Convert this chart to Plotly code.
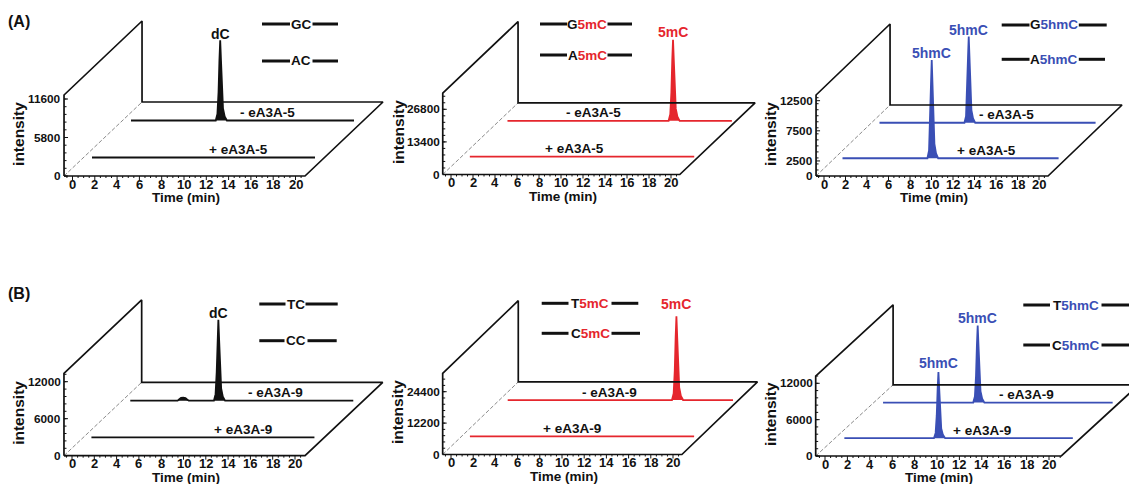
import plotly.graph_objects as go

FIG_W, FIG_H = 1129, 484

# ---------------- data ----------------
TIME_TICKS = [0, 2, 4, 6, 8, 10, 12, 14, 16, 18, 20]

A1_Y_TICKS = [0, 5800, 11600]
A2_Y_TICKS = [0, 13400, 26800]
A3_Y_TICKS = [0, 2500, 7500, 12500]
B1_Y_TICKS = [0, 6000, 12000]
B2_Y_TICKS = [0, 12200, 24400]
B3_Y_TICKS = [0, 6000, 12000]

# chromatograms: retention time (min) / intensity
A1_PLUS_T = [0, 20.0]
A1_PLUS_I = [0, 0]
A1_MINUS_T = [0, 7.6, 7.75, 7.85, 7.93, 8.0, 8.07, 8.15, 8.25, 8.4, 8.6, 20.0]
A1_MINUS_I = [0, 0, 970, 4240, 9080, 12100, 9080, 4600, 1800, 600, 0, 0]

A2_PLUS_T = [0, 20.4]
A2_PLUS_I = [0, 0]
A2_MINUS_T = [0, 14.65, 14.8, 14.9, 14.98, 15.05, 15.12, 15.2, 15.3, 15.45, 15.65, 20.4]
A2_MINUS_I = [0, 0, 2700, 11700, 25000, 33300, 25000, 12700, 5000, 1700, 0, 0]

A3_PLUS_T = [0, 7.9, 8.05, 8.15, 8.23, 8.3, 8.37, 8.45, 8.55, 8.7, 8.9, 20.1]
A3_PLUS_I = [0, 0, 1300, 5700, 12200, 16300, 12200, 6200, 2400, 800, 0, 0]
A3_MINUS_T = [0, 7.9, 8.05, 8.15, 8.23, 8.3, 8.37, 8.45, 8.55, 8.7, 8.9, 20.1]
A3_MINUS_I = [0, 0, 1100, 5000, 10700, 14300, 10700, 5400, 2100, 700, 0, 0]

B1_PLUS_T = [0, 20.0]
B1_PLUS_I = [0, 0]
B1_MINUS_T = [0, 4.25, 4.4, 4.55, 4.75, 4.95, 5.1, 5.25, 7.5, 7.65, 7.75, 7.83, 7.9,
              7.97, 8.05, 8.15, 8.3, 8.5, 20.0]
B1_MINUS_I = [0, 0, 250, 450, 500, 420, 200, 0, 0, 1050, 4600, 9800, 13100,
              9800, 5000, 2000, 650, 0, 0]

B2_PLUS_T = [0, 20.2]
B2_PLUS_I = [0, 0]
B2_MINUS_T = [0, 14.8, 14.95, 15.05, 15.13, 15.2, 15.27, 15.35, 15.45, 15.6, 15.8, 20.3]
B2_MINUS_I = [0, 0, 2600, 11400, 24400, 32500, 24400, 12400, 4900, 1600, 0, 0]

B3_PLUS_T = [0, 8.0, 8.15, 8.25, 8.33, 8.4, 8.47, 8.55, 8.65, 8.8, 9.0, 20.4]
B3_PLUS_I = [0, 0, 870, 3800, 8200, 10900, 8200, 4100, 1600, 550, 0, 0]
B3_MINUS_T = [0, 8.05, 8.2, 8.3, 8.38, 8.45, 8.52, 8.6, 8.7, 8.85, 9.05, 20.5]
B3_MINUS_I = [0, 0, 1000, 4400, 9500, 12700, 9500, 4800, 1900, 640, 0, 0]

# ---------------- styles ----------------
FONT = "Liberation Sans, Arial, Helvetica, sans-serif"
BLACK = "#111111"
RED = "#e5262d"
BLUE = "#3a4fb5"
FRONT_D, BACK_D = 0.25, 0.75


def legend_text(prefix, colored, color):
    if colored:
        return f"{prefix}<span style='color:{color}'>{colored}</span>"
    return prefix


PANELS = [
    dict(box=(0, 400, 0, 242), px0=72.5, ppm=11.15, py0=176, top_px=77, dd=(78, -74), wall_px=81,
         tl=-0.76, tr=20.85, color=BLACK, ticks=A1_Y_TICKS,
         traces=[(A1_PLUS_T, A1_PLUS_I, FRONT_D), (A1_MINUS_T, A1_MINUS_I, BACK_D)],
         tlabels=[("+ eA3A-5", 13.1, FRONT_D), ("- eA3A-5", 12.2, BACK_D)],
         peaks=[("dC", 1, 6)],
         legend=[(24, 262, 290.5, 312, 338, "GC", ""), (61, 262, 290.5, 312, 338, "AC", "")]),
    dict(box=(380, 780, 0, 242), px0=451, ppm=11.0, py0=174.5, top_px=65.2, dd=(75.3, -71.6), wall_px=81.3,
         tl=-0.75, tr=20.8, color=RED, ticks=A2_Y_TICKS,
         traces=[(A2_PLUS_T, A2_PLUS_I, FRONT_D), (A2_MINUS_T, A2_MINUS_I, BACK_D)],
         tlabels=[("+ eA3A-5", 9.5, FRONT_D), ("- eA3A-5", 7.8, BACK_D)],
         peaks=[("5mC", 1, 8)],
         legend=[(24, 540, 567.5, 607, 632, "G", "5mC"), (55, 540, 567.5, 607, 632, "A", "5mC")]),
    dict(box=(760, 1129, 0, 242), px0=824, ppm=10.75, py0=176, top_px=75.3, dd=(74, -71), wall_px=81,
         tl=-0.74, tr=20.84, color=BLUE, ticks=A3_Y_TICKS,
         traces=[(A3_PLUS_T, A3_PLUS_I, FRONT_D), (A3_MINUS_T, A3_MINUS_I, BACK_D)],
         tlabels=[("+ eA3A-5", 13.4, FRONT_D), ("- eA3A-5", 11.8, BACK_D)],
         peaks=[("5hmC", 0, 7), ("5hmC", 1, 7)],
         legend=[(25, 1001.7, 1030, 1078.3, 1106.7, "G", "5hmC"), (59.3, 1001.7, 1030, 1078.3, 1105, "A", "5hmC")]),
    dict(box=(0, 400, 242, 484), px0=72, ppm=11.15, py0=455.7, top_px=74, dd=(77.7, -73.4), wall_px=82.4,
         tl=-0.72, tr=20.9, color=BLACK, ticks=B1_Y_TICKS,
         traces=[(B1_PLUS_T, B1_PLUS_I, FRONT_D), (B1_MINUS_T, B1_MINUS_I, BACK_D)],
         tlabels=[("+ eA3A-9", 13.6, FRONT_D), ("- eA3A-9", 13.0, BACK_D)],
         peaks=[("dC", 1, 7)],
         legend=[(304, 259.3, 286, 305, 337.7, "TC", ""), (340.7, 259.3, 285, 307, 336.7, "CC", "")]),
    dict(box=(380, 780, 242, 484), px0=451, ppm=11.1, py0=454.5, top_px=62.8, dd=(75.6, -72.6), wall_px=81.2,
         tl=-0.75, tr=20.8, color=RED, ticks=B2_Y_TICKS,
         traces=[(B2_PLUS_T, B2_PLUS_I, FRONT_D), (B2_MINUS_T, B2_MINUS_I, BACK_D)],
         tlabels=[("+ eA3A-9", 9.2, FRONT_D), ("- eA3A-9", 9.2, BACK_D)],
         peaks=[("5mC", 1, 12)],
         legend=[(303.3, 541.7, 569, 611, 638.3, "T", "5mC"), (333.3, 541.7, 569, 611, 640, "C", "5mC")]),
    dict(box=(760, 1129, 242, 484), px0=825, ppm=11.2, py0=456, top_px=72.7, dd=(77.4, -71.2), wall_px=80,
         tl=-0.83, tr=21.1, color=BLUE, ticks=B3_Y_TICKS,
         traces=[(B3_PLUS_T, B3_PLUS_I, FRONT_D), (B3_MINUS_T, B3_MINUS_I, BACK_D)],
         tlabels=[("+ eA3A-9", 12.3, FRONT_D), ("- eA3A-9", 12.8, BACK_D)],
         peaks=[("5hmC", 0, 9), ("5hmC", 1, 8)],
         legend=[(305, 1023.3, 1050.5, 1101, 1130, "T", "5hmC"), (345, 1023.3, 1050.5, 1101, 1130, "C", "5hmC")]),
]

fig = go.Figure()
annotations = []
shapes = []
layout_axes = {}


def fnt(size, color=BLACK):
    return dict(family=FONT, size=size, color=color, weight="bold")


for k, p in enumerate(PANELS):
    n = k + 1
    xs = "x" if n == 1 else f"x{n}"
    ys = "y" if n == 1 else f"y{n}"
    sc = p["top_px"] / p["ticks"][-1]          # pixels per intensity unit
    DT = p["dd"][0] / p["ppm"]                 # depth shift in minutes
    DI = -p["dd"][1] / sc                      # depth shift in intensity units

    def proj(t, i, d, DT=DT, DI=DI):
        return t + d * DT, i + d * DI

    L, R, T, B = p["box"]
    layout_axes["xaxis" if n == 1 else f"xaxis{n}"] = dict(
        domain=[L / FIG_W, R / FIG_W], range=[(L - p["px0"]) / p["ppm"], (R - p["px0"]) / p["ppm"]],
        visible=False, fixedrange=True, anchor=ys)
    layout_axes["yaxis" if n == 1 else f"yaxis{n}"] = dict(
        domain=[1 - B / FIG_H, 1 - T / FIG_H], range=[(p["py0"] - B) / sc, (p["py0"] - T) / sc],
        visible=False, fixedrange=True, anchor=xs)

    tl, tr = p["tl"], p["tr"]
    wall = p["wall_px"] / sc

    # dashed floor edge under the wall
    pts = [proj(tl, 0, 0), proj(tl, 0, 1)]
    fig.add_trace(go.Scatter(x=[q[0] for q in pts], y=[q[1] for q in pts], mode="lines",
                             line=dict(color="#8a8a8a", width=1, dash="4px,2px"),
                             xaxis=xs, yaxis=ys, hoverinfo="skip", showlegend=False))

    # chromatograms
    for tt, ii, d in p["traces"]:
        pts = [proj(t, i, d) for t, i in zip(tt, ii)]
        fig.add_trace(go.Scatter(x=[q[0] for q in pts], y=[q[1] for q in pts], mode="lines",
                                 line=dict(color=p["color"], width=1.8), fill="toself",
                                 fillcolor=p["color"], xaxis=xs, yaxis=ys,
                                 hoverinfo="skip", showlegend=False))

    # frame: axis, wall and floor outline
    frame = [(tl, 0, 0), (tl, wall, 0), (tl, wall, 1), (tl, 0, 1), (tr, 0, 1), (tr, 0, 0), (tl, 0, 0)]
    pts = [proj(*f) for f in frame]
    fig.add_trace(go.Scatter(x=[q[0] for q in pts], y=[q[1] for q in pts], mode="lines",
                             line=dict(color=BLACK, width=1.7), xaxis=xs, yaxis=ys,
                             hoverinfo="skip", showlegend=False))

    # tick marks
    tx, ty = [], []
    step = (TIME_TICKS[1] - TIME_TICKS[0]) / 4
    t = TIME_TICKS[0]
    while t - step >= tl:
        t -= step
    while t <= tr:
        is_major = any(abs(t - m) < 1e-6 for m in TIME_TICKS)
        ln = (4 if is_major else 2) / sc
        a, b = proj(t, 0, 0), proj(t, -ln, 0)
        tx += [a[0], b[0], None]
        ty += [a[1], b[1], None]
        t += step
    ystep = (p["ticks"][-1] - p["ticks"][-2]) / 5
    v = 0.0
    while v <= wall + 1e-6:
        ln = 2.5 / p["ppm"]
        a, b = proj(tl, v, 0), proj(tl + ln, v, 0)
        tx += [a[0], b[0], None]
        ty += [a[1], b[1], None]
        v += ystep
    for m in p["ticks"]:
        a, b = proj(tl, m, 0), proj(tl + 4 / p["ppm"], m, 0)
        tx += [a[0], b[0], None]
        ty += [a[1], b[1], None]
    fig.add_trace(go.Scatter(x=tx, y=ty, mode="lines", line=dict(color=BLACK, width=1),
                             xaxis=xs, yaxis=ys, hoverinfo="skip", showlegend=False))

    # time tick labels
    for m in TIME_TICKS:
        x0, y0 = proj(m, 0, 0)
        annotations.append(dict(x=x0, y=y0, xref=xs, yref=ys, text=str(m), showarrow=False,
                                xanchor="center", yanchor="top", yshift=0.5, borderpad=0,
                                font=fnt(13)))
    # intensity tick labels
    for m in p["ticks"]:
        x0, y0 = proj(tl, m, 0)
        annotations.append(dict(x=x0, y=y0, xref=xs, yref=ys, text=str(m), showarrow=False,
                                xanchor="right", yanchor="middle", xshift=-1, font=fnt(11.8)))
    # axis titles
    x0, y0 = proj(10.2, 0, 0)
    annotations.append(dict(x=x0, y=y0, xref=xs, yref=ys, text="Time (min)", showarrow=False,
                            xanchor="center", yanchor="middle", yshift=-21.5, borderpad=0,
                            font=fnt(13.5)))
    x0, y0 = proj(tl, 0.52 * wall, 0)
    annotations.append(dict(x=x0, y=y0, xref=xs, yref=ys, text="intensity", showarrow=False,
                            textangle=-90, xanchor="center", yanchor="middle", xshift=-45,
                            font=fnt(15.5)))

    # trace labels
    for txt, tpos, d in p["tlabels"]:
        x0, y0 = proj(tpos, 0, d)
        annotations.append(dict(x=x0, y=y0, xref=xs, yref=ys, text=txt, showarrow=False,
                                xanchor="center", yanchor="middle", yshift=8, font=fnt(13.5)))

    # peak labels at the apex of the named trace
    for txt, idx, shift in p["peaks"]:
        tt, ii, d = p["traces"][idx]
        j = max(range(len(ii)), key=lambda q: ii[q])
        x0, y0 = proj(tt[j], ii[j], d)
        annotations.append(dict(x=x0, y=y0, xref=xs, yref=ys, text=txt, showarrow=False,
                                xanchor="center", yanchor="middle", yshift=shift,
                                font=fnt(14, p["color"])))

    # duplex legend glyphs
    for yy, xa, xb, xc, xd, pre, col in p["legend"]:
        for s0, s1 in ((xa, xb - 0.5), (xc + 0.5, xd)):
            shapes.append(dict(type="line", xref="paper", yref="paper",
                               x0=s0 / FIG_W, x1=s1 / FIG_W, y0=1 - yy / FIG_H, y1=1 - yy / FIG_H,
                               line=dict(color=BLACK, width=3)))
        annotations.append(dict(x=(xb + xc) / 2 / FIG_W, y=1 - yy / FIG_H, xref="paper", yref="paper",
                                text=legend_text(pre, col, p["color"]), showarrow=False,
                                xanchor="center", yanchor="middle", font=fnt(13.5)))

# panel letters
for txt, yy in (("(A)", 21), ("(B)", 293)):
    annotations.append(dict(x=6 / FIG_W, y=1 - yy / FIG_H, xref="paper", yref="paper", text=txt,
                            showarrow=False, xanchor="left", yanchor="middle", font=fnt(16)))

fig.update_layout(width=FIG_W, height=FIG_H, autosize=False,
                  margin=dict(l=0, r=0, t=0, b=0, pad=0),
                  paper_bgcolor="white", plot_bgcolor="rgba(0,0,0,0)",
                  showlegend=False, annotations=annotations, shapes=shapes, **layout_axes)

fig.write_html("out.html", config={"displayModeBar": False, "staticPlot": True},
               post_script="document.body.style.margin='0px';document.body.style.overflow='hidden';")
